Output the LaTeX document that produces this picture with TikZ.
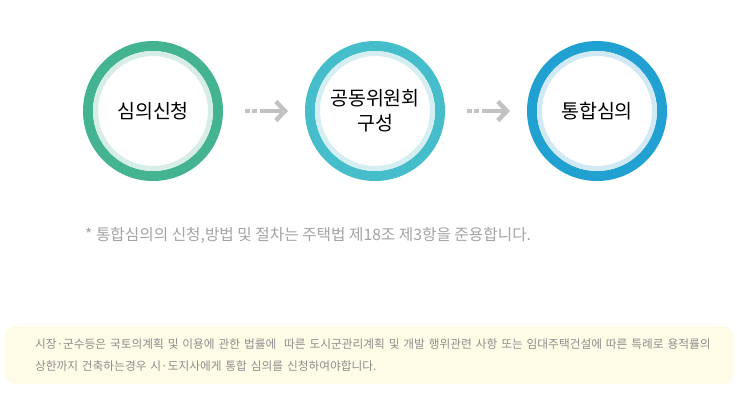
\documentclass[tikz,border=0pt]{standalone}
\usepackage{fontspec}
\setmainfont{Noto Sans CJK KR}
\usetikzlibrary{positioning,arrows.meta}
\definecolor{GRN}{HTML}{44B391}
\definecolor{GRNl}{HTML}{D6EEE7}
\definecolor{TEAL}{HTML}{45BDCA}
\definecolor{TEALl}{HTML}{D4EEF2}
\definecolor{BLU}{HTML}{21A0D2}
\definecolor{BLUl}{HTML}{D0E9F4}
\definecolor{ARRc}{HTML}{C2C2C2}
\definecolor{NOTEc}{HTML}{A3A3A3}
\definecolor{BOXc}{HTML}{FEFBE6}
\definecolor{BOXtxt}{HTML}{8E8E8E}

\begin{document}
\begin{tikzpicture}[
  x=1pt, y=-1pt,
  % step circle: coloured outer ring
  stage/.style={circle, draw=#1, line width=10pt, fill=white, minimum size=130pt,
                inner sep=0pt, align=center, text=black,
                font=\fontsize{19.5}{25}\selectfont},
  % pale inner ring
  halo/.style={draw=#1, line width=5pt},
  % dotted arrow between steps
  flow/.style={-{Straight Barb[length=9pt, width=19pt]}, color=ARRc, line width=4.5pt,
               dash pattern=on 5pt off 2pt on 5pt off 3pt on 60pt off 0pt,
               shorten <=22pt, shorten >=17pt},
  % cream notice box
  notice/.style={fill=BOXc, rounded corners=10pt, minimum height=58pt,
                 text width=668pt, inner xsep=30pt, align=left, text=BOXtxt,
                 font=\fontsize{11.7}{22}\selectfont},
]
\useasboundingbox (0,0) rectangle (737,405);

% ---------- Steps ----------
\node[stage=GRN] (S1) at (153,111) {심의신청};
\node[stage=TEAL, right=82pt of S1] (S2) {공동위원회\\구성};
\node[stage=BLU, right=82pt of S2] (S3) {통합심의};
\foreach \s/\c in {S1/GRNl, S2/TEALl, S3/BLUl}
  \draw[halo=\c] (\s.center) circle (57.5);

% ---------- Arrows ----------
\draw[flow] (S1.east) -- (S2.west);
\draw[flow] (S2.east) -- (S3.west);

% ---------- Note ----------
\node[anchor=west, inner xsep=0pt, text=NOTEc, font=\fontsize{15.7}{18}\selectfont] (NOTE) at (85,235)
  {* 통합심의의 신청,방법 및 절차는 주택법 제18조 제3항을 준용합니다.};

% ---------- Notice box ----------
\node[notice] (BOX) at (369,355)
  {\mbox{시장·군수등은 국토의계획 및 이용에 관한 법률에\ \ 따른 도시군관리계획 및 개발 행위관련 사항 또는 임대주택건설에 따른 특례로 용적률의}\\
   상한까지 건축하는경우 시·도지사에게 통합 심의를 신청하여야합니다.};

\end{tikzpicture}
\end{document}
